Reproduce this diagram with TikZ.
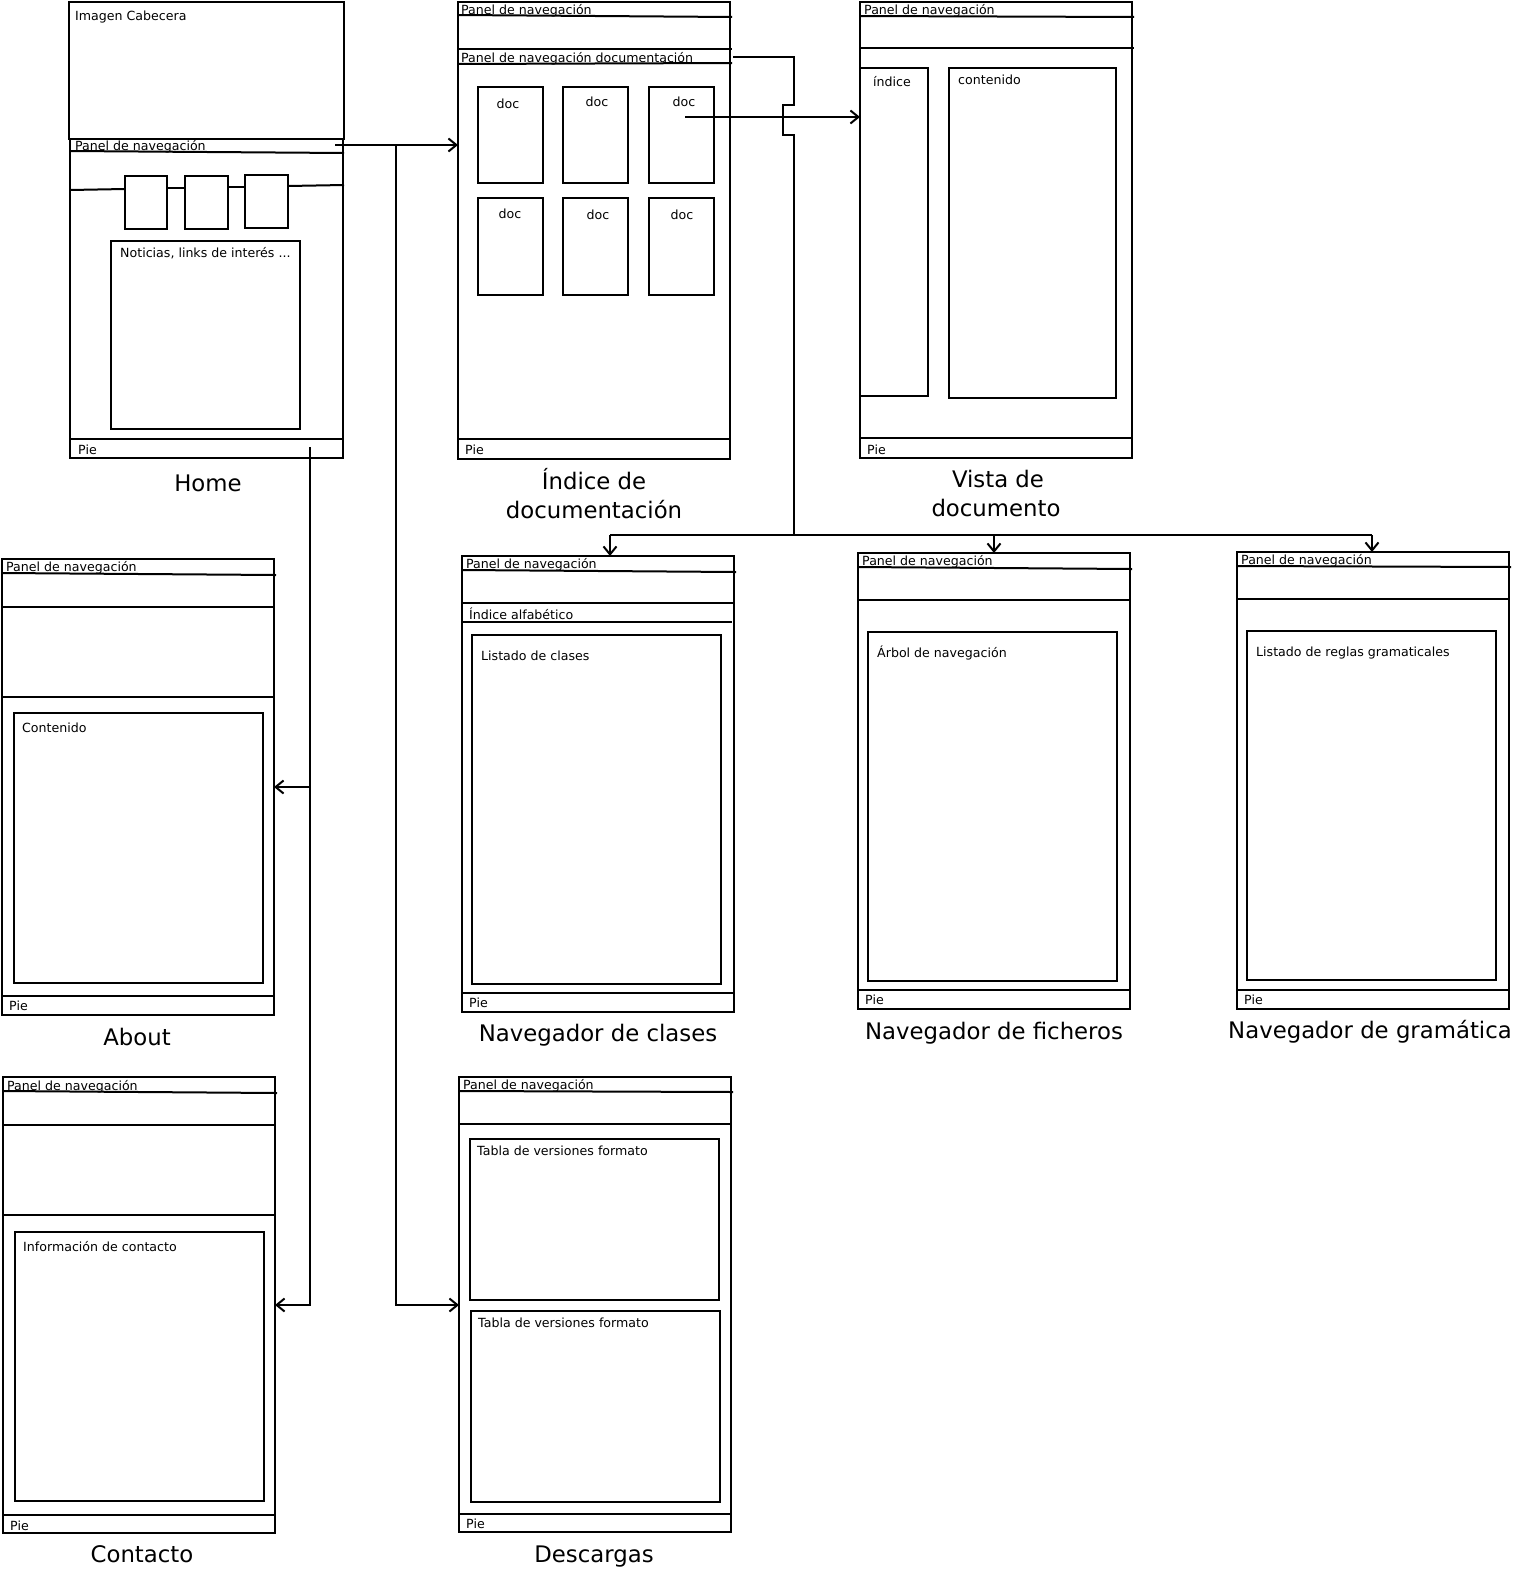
\documentclass[tikz,border=0pt]{standalone}
\usepackage{fontspec}
\setmainfont{DejaVu Sans}
\usetikzlibrary{arrows.meta}
\newcommand\scrbox[5]{\node[scr, minimum width=#4-#2, minimum height=#5-#3] (#1) at (#2,#3) {};}
\begin{document}
\begin{tikzpicture}[x=1pt,y=-1pt,
  ln/.style={line width=2pt},
  scr/.style={draw, line width=2pt, anchor=north west, inner sep=0pt, outer sep=0pt},
  sm/.style={anchor=mid west, inner sep=0pt, yshift=-3pt, font=\fontsize{12.6}{14}\selectfont},
  docl/.style={anchor=mid, inner sep=0pt, yshift=-3pt, font=\fontsize{12.6}{14}\selectfont},
  big/.style={anchor=mid, inner sep=0pt, yshift=-7pt, font=\fontsize{22.8}{26}\selectfont},
  arr/.style={line width=2pt, -{Straight Barb[length=8pt,width=13pt]}},
  cn/.style={line width=2pt}]
\useasboundingbox (0,0) rectangle (1524,1571);

% ---------------- Home ----------------
\scrbox{homehead}{69}{2}{344}{139}
\scrbox{home}{70}{139}{343}{458}
\draw[ln] (70,151) -- (344,153);
\draw[ln] (70,439) -- (343,439);
\scrbox{hb1}{125}{176}{167}{229}
\scrbox{hb2}{185}{176}{228}{229}
\scrbox{hb3}{245}{175}{288}{228}
\draw[ln] (70,190) -- (hb1.west |- 0,189);
\draw[ln] (167,188) -- (185,188);
\draw[ln] (228,187) -- (245,187);
\draw[ln] (288,186) -- (344,185);
\scrbox{homenews}{111}{241}{300}{429}
\node[sm] (t1) at (75,15) {Imagen Cabecera};
\node[sm] (t2) at (75,145) {Panel de navegación};
\node[sm] (t3) at (120,252) {Noticias, links de interés ...};
\node[sm] (t4) at (78,449) {Pie};
\node[big] (lhome) at (208,482) {Home};

% ---------------- Indice de documentacion ----------------
\scrbox{idx}{458}{2}{730}{459}
\draw[ln] (458,15) -- (732,17);
\draw[ln] (458,49) -- (732,49);
\draw[ln] (458,64) -- (732,63);
\draw[ln] (458,439) -- (730,439);
\node[sm] (t5) at (461,9) {Panel de navegación};
\node[sm] (t6) at (461,57) {Panel de navegación documentación};
\node[sm] (t7) at (465,449) {Pie};
\scrbox{d1}{478}{87}{543}{183}
\scrbox{d2}{563}{87}{628}{183}
\scrbox{d3}{649}{87}{714}{183}
\scrbox{d4}{478}{198}{543}{295}
\scrbox{d5}{563}{198}{628}{295}
\scrbox{d6}{649}{198}{714}{295}
\node[docl] (dt1) at (508,103) {doc};
\node[docl] (dt2) at (597,101) {doc};
\node[docl] (dt3) at (684,101) {doc};
\node[docl] (dt4) at (510,213) {doc};
\node[docl] (dt5) at (598,214) {doc};
\node[docl] (dt6) at (682,214) {doc};
\node[big] (lidx1) at (594,480) {Índice de};
\node[big] (lidx2) at (594,509) {documentación};

% ---------------- Vista de documento ----------------
\scrbox{vis}{860}{2}{1132}{458}
\draw[ln] (860,16) -- (1134,17);
\draw[ln] (860,48) -- (1134,48);
\draw[ln] (860,438) -- (1132,438);
\scrbox{vind}{860}{68}{928}{396}
\scrbox{vcon}{949}{68}{1116}{398}
\node[sm] (t8) at (864,9) {Panel de navegación};
\node[sm] (t9) at (873,81) {índice};
\node[sm] (t10) at (958,79) {contenido};
\node[sm] (t11) at (867,449) {Pie};
\node[big] (lvis1) at (998,478) {Vista de};
\node[big] (lvis2) at (996,507) {documento};

% ---------------- About ----------------
\scrbox{abt}{2}{559}{274}{1015}
\draw[ln] (2,573) -- (276,575);
\draw[ln] (2,607) -- (274,607);
\draw[ln] (2,697) -- (274,697);
\draw[ln] (2,996) -- (274,996);
\scrbox{abtc}{14}{713}{263}{983}
\node[sm] (t12) at (6,566) {Panel de navegación};
\node[sm] (t13) at (22,727) {Contenido};
\node[sm] (t14) at (9,1005) {Pie};
\node[big] (labt) at (137,1036) {About};

% ---------------- Contacto ----------------
\scrbox{con}{3}{1077}{275}{1533}
\draw[ln] (3,1091) -- (277,1093);
\draw[ln] (3,1125) -- (275,1125);
\draw[ln] (3,1215) -- (275,1215);
\draw[ln] (3,1515) -- (275,1515);
\scrbox{conc}{15}{1232}{264}{1501}
\node[sm] (t15) at (7,1085) {Panel de navegación};
\node[sm] (t16) at (23,1246) {Información de contacto};
\node[sm] (t17) at (10,1525) {Pie};
\node[big] (lcon) at (142,1553) {Contacto};

% ---------------- Navegador de clases ----------------
\scrbox{cls}{462}{556}{734}{1012}
\draw[ln] (462,570) -- (736,572);
\draw[ln] (462,603) -- (734,603);
\draw[ln] (462,622) -- (732,622);
\draw[ln] (462,993) -- (734,993);
\scrbox{clsc}{472}{635}{721}{984}
\node[sm] (t18) at (466,563) {Panel de navegación};
\node[sm] (t19) at (469,614) {Índice alfabético};
\node[sm] (t20) at (481,655) {Listado de clases};
\node[sm] (t21) at (469,1002) {Pie};
\node[big] (lcls) at (598,1032) {Navegador de clases};

% ---------------- Navegador de ficheros ----------------
\scrbox{fic}{858}{553}{1130}{1009}
\draw[ln] (858,567) -- (1132,569);
\draw[ln] (858,600) -- (1130,600);
\draw[ln] (858,990) -- (1130,990);
\scrbox{ficc}{868}{632}{1117}{981}
\node[sm] (t22) at (862,560) {Panel de navegación};
\node[sm] (t23) at (877,652) {Árbol de navegación};
\node[sm] (t24) at (865,999) {Pie};
\node[big] (lfic) at (994,1030) {Navegador de ficheros};

% ---------------- Navegador de gramatica ----------------
\scrbox{gra}{1237}{552}{1509}{1009}
\draw[ln] (1237,566) -- (1511,567);
\draw[ln] (1237,599) -- (1509,599);
\draw[ln] (1237,990) -- (1509,990);
\scrbox{grac}{1247}{631}{1496}{980}
\node[sm] (t25) at (1241,559) {Panel de navegación};
\node[sm] (t26) at (1256,651) {Listado de reglas gramaticales};
\node[sm] (t27) at (1244,999) {Pie};
\node[big] (lgra) at (1370,1029) {Navegador de gramática};

% ---------------- Descargas ----------------
\scrbox{dsc}{459}{1077}{731}{1532}
\draw[ln] (459,1091) -- (733,1092);
\draw[ln] (459,1124) -- (731,1124);
\draw[ln] (459,1514) -- (731,1514);
\scrbox{dsc1}{470}{1139}{719}{1300}
\scrbox{dsc2}{471}{1311}{720}{1502}
\node[sm] (t28) at (463,1084) {Panel de navegación};
\node[sm] (t29) at (477,1150) {Tabla de versiones formato};
\node[sm] (t30) at (478,1322) {Tabla de versiones formato};
\node[sm] (t31) at (466,1523) {Pie};
\node[big] (ldsc) at (594,1553) {Descargas};

% ---------------- Connectors ----------------
\coordinate (hn) at (335,145);
\coordinate (j1) at (396,145);
\coordinate (jd) at (396,1305);
\draw[arr] (hn) -- (hn -| idx.west);
\draw[arr] (j1) -- (jd) -- (jd -| dsc.west);

\coordinate (hp) at (310,447);
\coordinate (hpa) at (310,787);
\coordinate (hpb) at (310,1305);
\draw[arr] (hp) -- (hpb) -- (hpb -| con.east);
\draw[arr] (hpa) -- (hpa -| abt.east);

\coordinate (dn) at (733,57);
\coordinate (k1) at (794,57);
\coordinate (k2) at (794,105);
\coordinate (k3) at (783,105);
\coordinate (k4) at (783,135);
\coordinate (k5) at (794,135);
\coordinate (bus) at (794,535);
\draw[cn] (dn) -- (k1) -- (k2) -- (k3) -- (k4) -- (k5) -- (bus);
\coordinate (b1) at (610,535);
\coordinate (b2) at (994,535);
\coordinate (b3) at (1372,535);
\draw[cn] (b1) -- (b3);
\draw[arr] (b1) -- (b1 |- cls.north);
\draw[arr] (b2) -- (b2 |- fic.north);
\draw[arr] (b3) -- (b3 |- gra.north);

\coordinate (dd) at (685,117);
\draw[arr] (dd) -- (dd -| vis.west);
\end{tikzpicture}
\end{document}
